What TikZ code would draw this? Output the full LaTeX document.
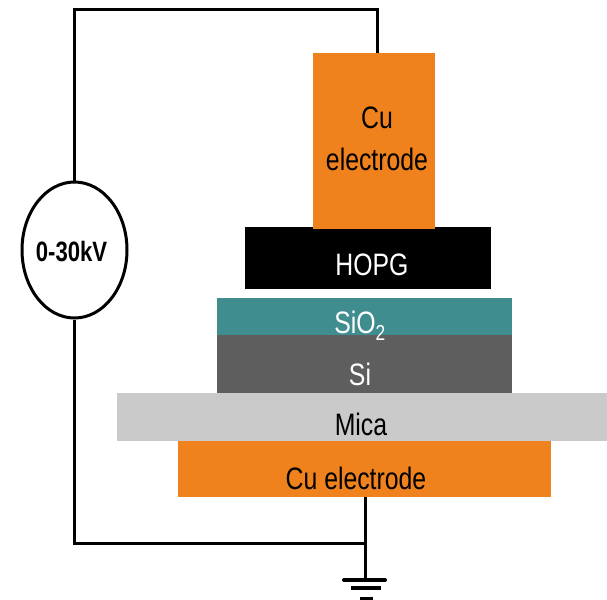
\documentclass[tikz,border=0pt]{standalone}
\usepackage{fontspec}
\usetikzlibrary{shapes.geometric}
\setmainfont{Liberation Sans}
\definecolor{cuorange}{HTML}{F0821E}
\definecolor{teal1}{HTML}{408D90}
\definecolor{sigray}{HTML}{5E5E5E}
\definecolor{micagray}{HTML}{CACACA}
\tikzset{
  layer/.style={draw=none,inner sep=0pt,outer sep=0pt,anchor=north west},
  lbl/.style={inner sep=0pt,font=\fontsize{31}{38}\selectfont,xscale=0.80,align=center},
  wire/.style={line width=3pt,black},
}
\begin{document}
\begin{tikzpicture}[x=1pt,y=-1pt]
\useasboundingbox (0,0) rectangle (607,599);
% layers
\node[layer,fill=black,minimum width=246pt,minimum height=62pt] (hopg) at (245,227) {};
\node[layer,fill=cuorange,minimum width=122pt,minimum height=176pt] (cutop) at (313,53) {};
\node[layer,fill=teal1,minimum width=295pt,minimum height=37pt] (sio) at (217,298) {};
\node[layer,fill=sigray,minimum width=295pt,minimum height=58pt] (si) at (217,335) {};
\node[layer,fill=micagray,minimum width=490pt,minimum height=48pt] (mica) at (117,393) {};
\node[layer,fill=cuorange,minimum width=373pt,minimum height=56pt] (cubot) at (178,441) {};
% labels
\node[lbl,text=black] (t1) at (377,139) {Cu\\[4pt]electrode};
\node[lbl,text=white] (t2) at (372,265) {HOPG};
\node[lbl,text=white] (t3) at (360,326) {SiO\textsubscript{2}};
\node[lbl,text=white] (t4) at (360,374) {Si};
\node[lbl,text=black] (t5) at (361,424) {Mica};
\node[lbl,text=black] (t6) at (356,478) {Cu electrode};
% source
\node[draw=black,line width=3pt,ellipse,minimum width=105pt,minimum height=136pt,inner sep=0pt,fill=white] (src) at (74.5,250) {};
\node[inner sep=0pt,font=\fontsize{28}{34}\selectfont\bfseries,xscale=0.79] (srct) at (71.5,252) {0-30kV};
% wires
\coordinate (c1) at (74,10);
\coordinate (c2) at (377,10);
\coordinate (c3) at (74,543);
\coordinate (c4) at (365,543);
\coordinate (g0) at (365,580);
\draw[wire,line cap=butt,line join=miter] (c1 |- src.north) -- (c1) -- (c2) -- (c2 |- cutop.north);
\draw[wire,line join=miter] (c3 |- src.south) -- (c3) -- (c4);
\draw[wire] (cubot.south -| g0) -- (g0);
% ground
\coordinate (g1a) at (344,580); \coordinate (g1b) at (385,580);
\coordinate (g2a) at (351,588); \coordinate (g2b) at (381,588);
\coordinate (g3a) at (360,599); \coordinate (g3b) at (373,599);
\draw[line width=4pt,line cap=round] (g1a) -- (g1b);
\draw[line width=3.5pt] (g2a) -- (g2b);
\draw[line width=4pt] (g3a) -- (g3b);
\end{tikzpicture}
\end{document}
